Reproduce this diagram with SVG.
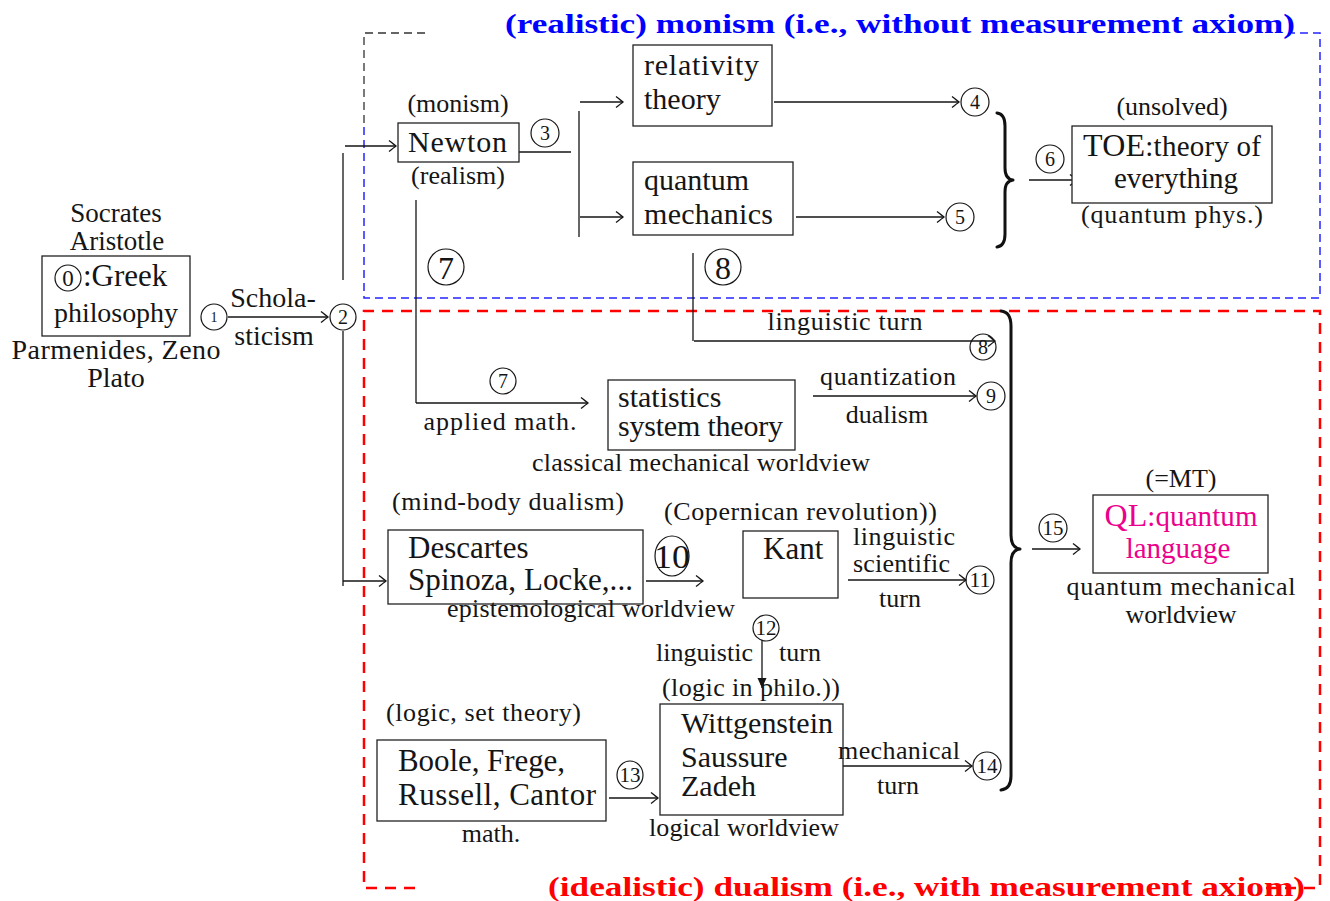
<svg xmlns="http://www.w3.org/2000/svg" width="1330" height="901" viewBox="0 0 1330 901">
<style>
.f{font-family:"Liberation Serif","Times New Roman",serif;fill:#151515}
.s{font-size:26px}
.m{font-size:28px}
.l{font-size:30px}
.xl{font-size:31px}
.c{text-anchor:middle}
.n{font-size:20px;text-anchor:middle;font-family:"Liberation Serif","Times New Roman",serif;fill:#151515}
.nb{font-size:34px;text-anchor:middle;font-family:"Liberation Serif","Times New Roman",serif;fill:#151515}
.box{fill:#fff;stroke:#222;stroke-width:1.3}
.ln{fill:none;stroke:#151515;stroke-width:1.3}
.ar{marker-end:url(#to)}
.cc{fill:none;stroke:#151515;stroke-width:1.2}
.brace{fill:none;stroke:#111;stroke-width:3;stroke-linejoin:round;stroke-linecap:round}
.blue{fill:none;stroke:#2424ff;stroke-width:1.5;stroke-dasharray:8 5}
.dark{fill:none;stroke:#333;stroke-width:1.3;stroke-dasharray:8 5}
.red{fill:none;stroke:#ff0000;stroke-width:2.5;stroke-dasharray:11 8}
.ttl{font-family:"Liberation Serif","Times New Roman",serif;font-weight:bold;font-size:28px}
.mag{fill:#ec008c}
</style>
<defs>
<marker id="to" viewBox="-9 -7 11 14" refX="0" refY="0" markerWidth="11" markerHeight="14" markerUnits="userSpaceOnUse" orient="auto">
<path d="M-7,-5.5 Q-2,-1.5 0,0 Q-2,1.5 -7,5.5" fill="none" stroke="#151515" stroke-width="1.3"/>
</marker>
<marker id="lat" viewBox="-11 -6 12 12" refX="0" refY="0" markerWidth="12" markerHeight="12" markerUnits="userSpaceOnUse" orient="auto">
<path d="M-10,-4.5 L0,0 L-10,4.5 Z" fill="#151515"/>
</marker>
</defs>
<rect width="1330" height="901" fill="#fff"/>

<g id="regions">
<path class="dark" d="M425,33 H364 V127"/>
<path class="blue" d="M364,127 V298 H1320 V33 H1292"/>
<path class="red" d="M415,888 H364 V311 H1320 V888 H1262"/>
<text class="ttl" x="505" y="33" fill="#0000ff" textLength="790" lengthAdjust="spacingAndGlyphs">(realistic) monism (i.e., without measurement axiom)</text>
<text class="ttl" x="548" y="896" fill="#ff0000" textLength="757" lengthAdjust="spacingAndGlyphs">(idealistic) dualism (i.e., with measurement axiom)</text>
</g>

<g id="connectors">
<line class="ln ar" x1="228" y1="317" x2="328" y2="317"/>
<line class="ln" x1="343" y1="153" x2="343" y2="280"/>
<line class="ln" x1="343" y1="331" x2="343" y2="586"/>
<line class="ln ar" x1="345" y1="146" x2="396" y2="146"/>
<line class="ln ar" x1="343" y1="581" x2="386" y2="581"/>
<line class="ln" x1="519" y1="152" x2="571" y2="152"/>
<line class="ln" x1="579" y1="111" x2="579" y2="237"/>
<line class="ln ar" x1="580" y1="102" x2="623" y2="102"/>
<line class="ln ar" x1="580" y1="217" x2="623" y2="217"/>
<line class="ln ar" x1="774" y1="102" x2="959" y2="102"/>
<line class="ln ar" x1="796" y1="217" x2="944" y2="217"/>
<path class="brace" d="M997,113 Q1005,114 1005,126 L1005,168 Q1005,179 1013,180 Q1005,181 1005,192 L1005,234 Q1005,246 997,247"/>
<line class="ln ar" x1="1029" y1="180" x2="1077" y2="180"/>
<path class="ln" d="M416,200 V403"/>
<line class="ln ar" x1="416" y1="403" x2="588" y2="403"/>
<path class="ln" d="M693,253 V341"/>
<line class="ln ar" x1="694" y1="341" x2="995" y2="341"/>
<line class="ln ar" x1="813" y1="396" x2="976" y2="396"/>
<line class="ln ar" x1="646" y1="581" x2="703" y2="581"/>
<line class="ln ar" x1="848" y1="580" x2="966" y2="580"/>
<line class="ln" x1="762" y1="640" x2="762" y2="688" marker-end="url(#lat)"/>
<line class="ln ar" x1="609" y1="798" x2="658" y2="798"/>
<line class="ln ar" x1="833" y1="766" x2="972" y2="766"/>
<path class="brace" d="M1001,311 Q1011,312 1011,326 L1011,535 Q1011,548 1020,549 Q1011,550 1011,563 L1011,776 Q1011,789 1001,790"/>
<line class="ln ar" x1="1032" y1="549" x2="1080" y2="549"/>
</g>

<g id="n1"><circle class="cc" cx="214" cy="317" r="13"/><text class="n" x="214" y="322" style="font-size:14px">1</text></g>
<g id="n2"><circle class="cc" cx="343" cy="317" r="13"/><text class="n" x="343" y="324">2</text></g>
<g id="n3"><circle class="cc" cx="545" cy="133" r="14"/><text class="n" x="545" y="140">3</text></g>
<g id="n4"><circle class="cc" cx="975" cy="102" r="14"/><text class="n" x="975" y="109">4</text></g>
<g id="n5"><circle class="cc" cx="960" cy="217" r="14"/><text class="n" x="960" y="224">5</text></g>
<g id="n6"><circle class="cc" cx="1050" cy="159" r="14"/><text class="n" x="1050" y="166">6</text></g>
<g id="n7big"><circle class="cc" cx="446" cy="267" r="18"/><text class="nb" x="446" y="279" style="font-size:32px">7</text></g>
<g id="n8big"><circle class="cc" cx="723" cy="267" r="18"/><text class="nb" x="723" y="279" style="font-size:32px">8</text></g>
<g id="n7"><circle class="cc" cx="503" cy="381" r="13"/><text class="n" x="503" y="388">7</text></g>
<g id="n8"><circle class="cc" cx="983" cy="347" r="13"/><text class="n" x="983" y="354">8</text></g>
<g id="n9"><circle class="cc" cx="991" cy="396" r="14"/><text class="n" x="991" y="403">9</text></g>
<g id="n10"><ellipse class="cc" cx="672" cy="556" rx="17" ry="20"/><text class="nb" x="672" y="568" textLength="36" lengthAdjust="spacingAndGlyphs">10</text></g>
<g id="n11"><ellipse class="cc" cx="980" cy="580" rx="14" ry="14"/><text class="n" x="980" y="587" textLength="21" lengthAdjust="spacingAndGlyphs">11</text></g>
<g id="n12"><circle class="cc" cx="766" cy="628" r="13"/><text class="n" x="766" y="635" textLength="21" lengthAdjust="spacingAndGlyphs">12</text></g>
<g id="n13"><ellipse class="cc" cx="630" cy="775" rx="13" ry="14"/><text class="n" x="630" y="782" textLength="21" lengthAdjust="spacingAndGlyphs">13</text></g>
<g id="n14"><ellipse class="cc" cx="987" cy="766" rx="14" ry="14"/><text class="n" x="987" y="773" textLength="21" lengthAdjust="spacingAndGlyphs">14</text></g>
<g id="n15"><circle class="cc" cx="1053" cy="528" r="14"/><text class="n" x="1053" y="535" textLength="21" lengthAdjust="spacingAndGlyphs">15</text></g>

<g id="greek">
<text class="f m c" x="116" y="222" style="font-size:27px">Socrates</text>
<text class="f m c" x="117" y="250" style="font-size:27px">Aristotle</text>
<rect class="box" x="42" y="256" width="148" height="80"/>
<circle class="cc" cx="68" cy="278" r="13"/><text class="n" x="68" y="286" style="font-size:23px">0</text>
<text class="f" x="83" y="286" style="font-size:31px">:Greek</text>
<text class="f m" x="54" y="322" textLength="124">philosophy</text>
<text class="f m c" x="116" y="359" textLength="209">Parmenides, Zeno</text>
<text class="f m c" x="116" y="387">Plato</text>
</g>

<g id="scholasticism">
<text class="f m c" x="273" y="307">Schola-</text>
<text class="f m c" x="274" y="345">sticism</text>
</g>

<g id="newton">
<text class="f s c" x="458" y="112">(monism)</text>
<rect class="box" x="398" y="123" width="121" height="39"/>
<text class="f l" x="408" y="152" textLength="99">Newton</text>
<text class="f s c" x="458" y="184">(realism)</text>
</g>

<g id="relativity">
<rect class="box" x="633" y="45" width="139" height="81"/>
<text class="f l" x="644" y="75" textLength="115">relativity</text>
<text class="f l" x="644" y="109">theory</text>
</g>

<g id="qm">
<rect class="box" x="633" y="162" width="160" height="73"/>
<text class="f l" x="644" y="190">quantum</text>
<text class="f l" x="644" y="224" textLength="129">mechanics</text>
</g>

<g id="toe">
<text class="f s c" x="1172" y="115">(unsolved)</text>
<rect class="box" x="1072" y="126" width="200" height="77"/>
<text class="f c" x="1172" y="156" style="font-size:29px" textLength="178"><tspan style="font-size:32px">TOE</tspan>:theory of</text>
<text class="f c" x="1176" y="188" style="font-size:29px">everything</text>
<text class="f s c" x="1172" y="223" textLength="182">(quantum phys.)</text>
</g>

<g id="lingturn8">
<text class="f s c" x="845" y="330" textLength="155">linguistic turn</text>
</g>

<g id="stats">
<text class="f s c" x="500" y="430" textLength="153">applied math.</text>
<rect class="box" x="608" y="380" width="187" height="70"/>
<text class="f l" x="618" y="407">statistics</text>
<text class="f l" x="618" y="436" textLength="165">system theory</text>
<text class="f s c" x="701" y="471" textLength="338">classical mechanical worldview</text>
<text class="f s c" x="888" y="385" textLength="136">quantization</text>
<text class="f s c" x="887" y="423">dualism</text>
</g>

<g id="descartes">
<text class="f s" x="392" y="510" textLength="232">(mind-body dualism)</text>
<rect class="box" x="388" y="530" width="255" height="74"/>
<text class="f xl" x="408" y="558">Descartes</text>
<text class="f xl" x="408" y="590" textLength="225">Spinoza, Locke,...</text>
<text class="f s" x="447" y="617" textLength="288">epistemological worldview</text>
</g>

<g id="kant">
<text class="f s" x="664" y="520" textLength="273">(Copernican revolution))</text>
<rect class="box" x="743" y="531" width="95" height="67"/>
<text class="f xl" x="763" y="559">Kant</text>
<text class="f s" x="853" y="545" textLength="102">linguistic</text>
<text class="f s" x="853" y="572" textLength="97">scientific</text>
<text class="f s c" x="900" y="607">turn</text>
</g>

<g id="lingturn12">
<text class="f s" x="656" y="661" textLength="97">linguistic</text>
<text class="f s" x="779" y="661">turn</text>
<text class="f s" x="662" y="696" textLength="178">(logic in philo.))</text>
</g>

<g id="boole">
<text class="f s" x="386" y="721" textLength="195">(logic, set theory)</text>
<rect class="box" x="377" y="740" width="229" height="81"/>
<text class="f xl" x="398" y="771" textLength="167">Boole, Frege,</text>
<text class="f xl" x="398" y="805" textLength="198">Russell, Cantor</text>
<text class="f s c" x="491" y="842">math.</text>
</g>

<g id="wittgenstein">
<rect class="box" x="660" y="704" width="183" height="111"/>
<text class="f l" x="681" y="733" textLength="152">Wittgenstein</text>
<text class="f l" x="681" y="767">Saussure</text>
<text class="f l" x="681" y="796">Zadeh</text>
<text class="f s c" x="744" y="836" textLength="190">logical worldview</text>
<text class="f s c" x="899" y="759" textLength="122">mechanical</text>
<text class="f s c" x="898" y="794">turn</text>
</g>

<g id="ql">
<text class="f s c" x="1181" y="487">(=MT)</text>
<rect class="box" x="1093" y="495" width="175" height="78"/>
<text class="f c mag" x="1181" y="526" style="font-size:29px" textLength="153"><tspan style="font-size:32px">QL</tspan>:quantum</text>
<text class="f c mag" x="1178" y="558" style="font-size:29px">language</text>
<text class="f s c" x="1181" y="595" textLength="229">quantum mechanical</text>
<text class="f s c" x="1181" y="623">worldview</text>
</g>
</svg>
